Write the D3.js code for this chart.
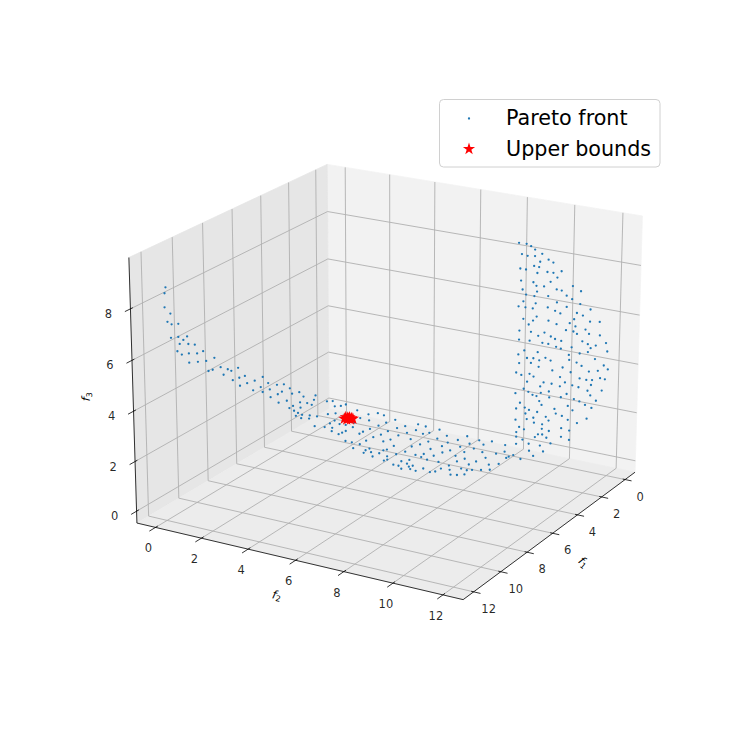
<!DOCTYPE html>
<html>
<head>
<meta charset="utf-8">
<script src="https://cdn.jsdelivr.net/npm/d3@7"></script>
<style>
  body { margin: 0; background: #fff; }
  text { font-family: "DejaVu Sans", sans-serif; fill: #000; }
</style>
</head>
<body>
<div id="chart"></div>
<script>
const f1Ticks = [0, 2, 4, 6, 8, 10, 12];
const f2Ticks = [0, 2, 4, 6, 8, 10, 12];
const f3Ticks = [0, 2, 4, 6, 8];
const legendLabels = ['Pareto front', 'Upper bounds'];

// the picture only gives two coordinates per dot, so each part of the front
// keeps one estimated coordinate fixed: f2 on the arm, f3 on the base, f1 on the wall
const armF2 = 0;
const armF1 = [11.71,11.78,11.8,11.44,11.64,11.38,10.95,11.44,10.97,10.65,10.4,10.89,10.33,9.91,11.05,10.77,10.31,9.77,9.37,10.3,9.73,9.18,8.63,9.04,8.76,8.22,7.74,7.5,7.03,8.03,6.96,6.57,7.41,5.89,5.32,6.42,6.92,4.94,5.47,6.01,5.34,4.83,4.31,3.81,3.38,3.22,3.96,4.26,2.69,2.38,4.78,2.64,2.11,4.21,3.61,1.77,1.6,1.48,3.43,3.16,2.61,3.09,2.8,2.5,2.96,2.57,1.93,1.38,1.98];
const armF3 = [8.6,8.39,7.85,7.5,7.24,7.06,6.95,6.55,6.44,6.22,6.28,6.14,5.96,5.8,5.9,5.68,5.58,5.41,5.37,5.21,5.06,4.92,4.87,4.47,4.43,4.36,4.12,3.98,3.95,3.99,3.52,3.47,3.57,3.05,3.02,3.12,3.18,2.64,2.65,2.69,2.4,2.34,2.36,2.22,1.91,1.63,1.96,1.95,1.52,1.23,2.0,1.07,0.86,1.58,1.46,0.67,0.83,0.98,1.09,1.09,0.83,0.86,0.67,0.49,0.6,0.37,0.27,0.04,0.15];

const baseF3 = 1;
const baseF1 = [4.42,1.87,1.73,2.19,2.03,1.8,2.13,3.06,2.83,2.29,2.0,2.08,2.8,2.84,2.28,3.52,3.87,4.31,3.75,3.71,4.23,3.32,3.78,3.15,2.72,4.55,4.69,4.48,4.26,4.25,4.0,3.61,3.01,3.47,3.93,3.66,5.17,5.17,5.19,4.75,4.3,4.49,4.19,5.66,4.7,5.39,5.61,5.87,5.68,5.62,5.28,5.15,5.39,6.03,5.74,6.17,6.02,6.35,6.35,
  2.68,2.26,2.32,2.35,3.26,2.85,3.05,2.84,3.77,2.78,2.43,3.22,3.65,2.95,2.58,2.44,3.38,3.07,4.07,2.89,3.53,4.41,4.28,3.81,4.04,3.43,4.99,4.37,3.92,3.59,3.47,5.09,4.85,4.82,5.17,5.29,4.42,4.89,4.51,4.54,4.04,5.64,5.91,5.28,6.01,6.09,5.4,4.94,4.58,4.33,6.56,6.24,6.42,6.13,5.81,5.76,5.44,5.48,5.35,5.19,5.01,6.47,6.32,6.17,6.16,6.07,5.88,
  3.5,3.66,3.49,3.27,3.13];
const baseF2 = [1.75,0.76,0.94,1.31,1.49,1.58,2.29,1.52,1.73,2.89,3.14,3.46,2.82,3.24,4.08,2.1,2.1,2.13,2.46,2.71,2.42,2.86,3.07,3.84,3.93,2.59,2.98,3.01,3.04,3.64,3.65,3.73,4.58,4.44,4.4,5.01,3.57,3.85,4.21,4.23,4.28,4.83,4.97,4.2,5.41,4.75,4.71,4.78,4.99,5.31,5.29,5.37,5.91,5.26,5.72,5.83,5.89,6.34,6.56,
  4.75,5.08,5.45,6.07,5.16,5.32,5.74,5.9,5.61,6.63,7.32,6.46,6.31,7.2,7.92,8.39,7.0,7.77,6.19,8.27,7.62,6.02,6.76,6.99,7.47,8.15,6.07,7.32,8.01,8.6,9.12,6.57,6.79,7.2,6.86,7.18,7.91,8.23,8.35,8.85,8.98,6.62,6.43,7.66,6.73,7.02,8.17,8.76,9.41,9.69,6.8,6.94,7.1,7.49,8.06,8.4,8.71,8.97,9.12,9.41,9.68,7.36,7.88,8.02,8.66,8.88,9.09,
  9.67,9.65,10.16,9.74,9.3];

const wallF1 = 1;
const wallF2 = [8.67,8.99,9.18,9.35,8.8,9.04,9.35,9.65,9.92,10.12,9.57,9.32,9.53,8.74,8.98,9.46,9.88,10.13,10.47,10.3,8.78,9.3,10.02,9.43,9.75,9.46,8.85,10.28,10.49,10.95,11.29,9.0,9.35,9.93,10.7,10.93,8.89,9.41,10.3,11.27,8.69,8.98,9.29,9.92,10.71,10.23,10.45,11.7,11.14,11.39,9.46,8.9,9.31,9.96,10.3,11.03,11.69,12.09,10.85,9.13,11.09,8.74,9.23,10.7,11.01,11.51,9.8,11.16,11.66,9.54,10.07,12.11,8.73,10.25,9.18,10.51,9.72,9.97,11.39,11.62,12.37,11.95,10.3,10.95,10.5,11.74,
  8.96,9.53,8.71,10.84,11.29,11.63,12.43,9.08,9.35,9.86,9.6,10.08,10.86,11.93,8.75,9.25,11.17,9.58,10.59,11.38,12.3,12.47,10.16,8.63,9.2,10.93,11.69,12.06,8.85,9.37,10.49,12.16,11.31,11.59,11.83,12.36,9.1,10.7,10.14,9.8,10.49,9.66,11.01,11.27,11.79,8.96,10.03,11.65,12.24,9.16,9.69,8.61,10.78,9.34,9.51,11.77,10.05,11.09,10.54,9.63,11.32,12.01,8.81,9.73,11.56,10.84,9.02,8.65,10.28,11.04,11.83,9.2,9.55,9.05,10.34,10.6,9.92,9.39,9.11,8.63,10.04,10.85,11.64,9.42,11.24,9.77,8.79,9.0,9.76,10.58,10.06,8.67,10.92,9.6,9.78,8.67,9.47,9.96,10.58,8.94,10.92,9.21,10.14,8.2,8.67,9.69,9.23,9.83,9.41];
const wallF3 = [8.7,8.71,8.65,8.54,8.27,8.24,8.28,8.42,8.23,8.15,8.09,7.88,7.87,7.68,7.68,7.62,7.73,7.74,7.86,7.58,7.2,7.22,7.36,7.1,7.13,6.87,6.85,7.1,7.09,7.35,7.2,6.67,6.67,6.77,6.92,6.82,6.38,6.39,6.58,6.68,6.14,6.15,6.16,6.31,6.47,6.23,6.16,6.54,6.3,6.24,5.86,5.67,5.67,5.78,5.7,6.03,6.05,6.11,5.84,5.48,5.75,5.16,5.2,5.53,5.53,5.7,5.27,5.46,5.55,5.09,5.16,5.57,4.79,5.09,4.83,5.06,4.84,4.84,5.2,5.13,5.31,5.13,4.78,4.88,4.74,4.99,
  4.39,4.42,4.18,4.55,4.69,4.81,4.98,4.1,4.14,4.25,4.1,4.18,4.35,4.58,3.83,3.93,4.3,3.83,3.99,4.2,4.39,4.26,3.79,3.42,3.47,3.86,4.03,4.13,3.36,3.39,3.58,3.85,3.68,3.67,3.71,3.84,3.13,3.4,3.24,3.23,3.2,3.04,3.34,3.31,3.5,2.81,2.9,3.24,3.36,2.72,2.78,2.56,2.94,2.63,2.61,3.07,2.66,2.79,2.76,2.43,2.74,2.9,2.2,2.29,2.64,2.46,2.04,1.93,2.23,2.32,2.57,1.98,1.96,1.8,2.05,2.0,1.83,1.69,1.58,1.46,1.7,1.89,2.09,1.49,1.83,1.49,1.19,1.13,1.3,1.49,1.27,0.95,1.46,1.04,1.07,0.76,0.9,0.97,1.13,0.69,1.07,0.57,0.77,0.31,0.46,0.59,0.28,0.37,0.1];

const upperF1 = [3.16,3.0,3.2,3.01,3.08,2.93,3.13,2.98,3.0];
const upperF2 = [2.32,2.29,2.45,2.38,2.46,2.42,2.58,2.54,2.61];
const upperF3 = [1,1,1,1,1,1,1,1,1];

const width = 747;
const height = 747;
const f1Lim = [-0.86, 12.76];
const f2Lim = [-0.82, 12.8];
const f3Lim = [-0.48, 9.97];
// the dot values above were read against limits 0.14 / 0.1 higher than the ticks ended up at
const readShiftF1 = -0.14;
const readShiftF2 = -0.1;

// same camera as a default 3d axes: elev 20, azim 30, box 4:4:3
const elev = 20 * Math.PI / 180;
const azim = 30 * Math.PI / 180;
const dist = 10;
const n = [Math.cos(elev) * Math.cos(azim), Math.cos(elev) * Math.sin(azim), Math.sin(elev)];
const u = [-Math.sin(azim), Math.cos(azim), 0];
const v = [-Math.sin(elev) * Math.cos(azim), -Math.sin(elev) * Math.sin(azim), Math.cos(elev)];

const boxX = d3.scaleLinear().domain(f1Lim).range([-0.5953, 0.5953]);
const boxY = d3.scaleLinear().domain(f2Lim).range([-0.5953, 0.5953]);
const boxZ = d3.scaleLinear().domain(f3Lim).range([-0.4464, 0.4464]);
const viewX = d3.scaleLinear().domain([-0.1, 0.1]).range([391 - 310.8, 391 + 310.8]);
const viewY = d3.scaleLinear().domain([-0.1, 0.1]).range([368.7 + 310.8, 368.7 - 310.8]);

function project(p) {
  const c = [boxX(p[0]), boxY(p[1]), boxZ(p[2])];
  const dot = a => a[0] * c[0] + a[1] * c[1] + a[2] * c[2];
  const d = dist - dot(n);
  return [viewX(dot(u) / d), viewY(dot(v) / d)];
}

const line = d3.line();
const seg = (a, b) => line([project(a), project(b)]);

const svg = d3.select('#chart')
  .append('svg')
  .attr('width', width)
  .attr('height', height)
  .attr('viewBox', [0, 0, width, height]);

const [x0, x1] = f1Lim;
const [y0, y1] = f2Lim;
const [z0, z1] = f3Lim;

// panes
const panes = [
  { fill: '#f2f2f2', pts: [[x0, y0, z0], [x0, y1, z0], [x0, y1, z1], [x0, y0, z1]] },
  { fill: '#e6e6e6', pts: [[x0, y0, z0], [x1, y0, z0], [x1, y0, z1], [x0, y0, z1]] },
  { fill: '#ececec', pts: [[x0, y0, z0], [x1, y0, z0], [x1, y1, z0], [x0, y1, z0]] }
];
svg.append('g').selectAll('path')
  .data(panes)
  .join('path')
  .attr('d', d => line(d.pts.map(project)) + 'Z')
  .attr('fill', d => d.fill)
  .attr('stroke', d => d.fill)
  .attr('stroke-width', 0.8);

// grid
const gridSegs = [];
f1Ticks.forEach(t => {
  gridSegs.push([[t, y1, z0], [t, y0, z0]], [[t, y0, z0], [t, y0, z1]]);
});
f2Ticks.forEach(t => {
  gridSegs.push([[x1, t, z0], [x0, t, z0]], [[x0, t, z0], [x0, t, z1]]);
});
f3Ticks.forEach(t => {
  gridSegs.push([[x1, y0, t], [x0, y0, t]], [[x0, y0, t], [x0, y1, t]]);
});
svg.append('g').selectAll('path')
  .data(gridSegs)
  .join('path')
  .attr('d', d => seg(d[0], d[1]))
  .attr('fill', 'none')
  .attr('stroke', '#b0b0b0')
  .attr('stroke-width', 0.9);

// axis lines and ticks
const axisSegs = [
  [[x1, y0, z0], [x1, y1, z0]],
  [[x1, y1, z0], [x0, y1, z0]],
  [[x1, y0, z0], [x1, y0, z1]]
];
f1Ticks.forEach(t => axisSegs.push([[t, y1 - 0.1, z0], [t, y1 + 0.27, z0]]));
f2Ticks.forEach(t => axisSegs.push([[x1 - 0.15, t, z0], [x1 + 0.4, t, z0]]));
f3Ticks.forEach(t => axisSegs.push([[x1 - 0.15, y0, t], [x1 + 0.35, y0, t]]));
svg.append('g').selectAll('path')
  .data(axisSegs)
  .join('path')
  .attr('d', d => seg(d[0], d[1]))
  .attr('fill', 'none')
  .attr('stroke', '#000')
  .attr('stroke-width', 0.8);

// tick labels
const tickLabels = svg.append('g')
  .attr('font-size', 11.5)
  .attr('fill-opacity', 0.85)
  .attr('text-anchor', 'middle');
const addTickLabels = (ticks, at, dx, dy) => {
  tickLabels.append('g').selectAll('text')
    .data(ticks)
    .join('text')
    .attr('x', d => project(at(d))[0] + dx)
    .attr('y', d => project(at(d))[1] + dy)
    .text(d => d);
};
addTickLabels(f1Ticks, t => [t, y1, z0], 15, 21);
addTickLabels(f2Ticks, t => [x1, t, z0], -7, 25);
addTickLabels(f3Ticks, t => [x1, y0, t], -22, 9);

// axis titles
const addTitle = (sub, x, y, angle) => {
  const t = svg.append('text')
    .attr('font-size', 11.5)
    .attr('text-anchor', 'middle')
    .attr('transform', `translate(${x},${y}) rotate(${angle})`);
  t.append('tspan').attr('font-style', 'italic').text('f');
  t.append('tspan').attr('font-size', 8).attr('dy', 2).text(sub);
};
addTitle('1', 581, 565, 40);
addTitle('2', 276, 599, 13);
addTitle('3', 90, 397, -87);

// pareto front
const front = [
  ...armF1.map((d, i) => [d + readShiftF1, armF2 + readShiftF2, armF3[i]]),
  ...baseF1.map((d, i) => [d + readShiftF1, baseF2[i] + readShiftF2, baseF3]),
  ...wallF2.map((d, i) => [wallF1 + readShiftF1, d + readShiftF2, wallF3[i]])
];
const dotColor = '#1f77b4';
svg.append('g').selectAll('circle')
  .data(front)
  .join('circle')
  .attr('cx', d => project(d)[0])
  .attr('cy', d => project(d)[1])
  .attr('r', 1.15)
  .attr('fill', dotColor);

// upper bounds
const star = d3.symbol(d3.symbolStar, 46);
svg.append('g').selectAll('path')
  .data(upperF1.map((d, i) => [d + readShiftF1, upperF2[i] + readShiftF2, upperF3[i]]))
  .join('path')
  .attr('d', star)
  .attr('transform', d => `translate(${project(d)})`)
  .attr('fill', 'red');

// legend
const legend = svg.append('g');
legend.append('rect')
  .attr('x', 439.5)
  .attr('y', 99.5)
  .attr('width', 220.5)
  .attr('height', 67.5)
  .attr('rx', 4)
  .attr('fill', '#fff')
  .attr('stroke', '#d0d0d0');
legend.append('circle')
  .attr('cx', 469)
  .attr('cy', 118.5)
  .attr('r', 1.15)
  .attr('fill', dotColor);
legend.append('path')
  .attr('d', star)
  .attr('transform', 'translate(469,149)')
  .attr('fill', 'red');
legend.selectAll('text')
  .data(legendLabels)
  .join('text')
  .attr('x', 506)
  .attr('y', (d, i) => 124.5 + i * 31)
  .attr('font-size', 20.7)
  .text(d => d);
</script>
</body>
</html>
